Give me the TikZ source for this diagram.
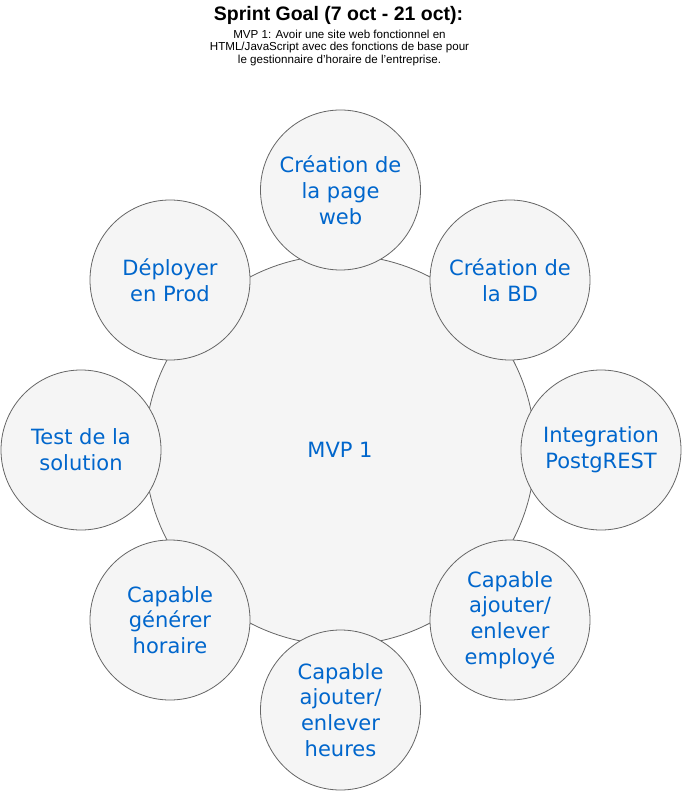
\documentclass[tikz,border=0pt]{standalone}
\usepackage{fontspec}
\setmainfont{Liberation Sans}
\newfontfamily\circfont{DejaVu Sans}
\definecolor{fillgray}{HTML}{F5F5F5}
\definecolor{strokegray}{HTML}{666666}
\definecolor{txtblue}{HTML}{0066CC}
\begin{document}
\begin{tikzpicture}[x=1pt,y=-1pt,
  bubble/.style={circle,draw=strokegray,fill=fillgray,line width=0.8pt,inner sep=0pt,
    minimum size=160pt,text=txtblue,align=center,
    font=\circfont\fontsize{21}{25.8}\selectfont},
  bigbubble/.style={bubble,minimum size=390pt}]
\useasboundingbox (0,0) rectangle (681,791);
\node[font=\bfseries\fontsize{19.5}{22}\selectfont] (title) at (338.5,15.5) {Sprint Goal (7 oct - 21 oct):};
\node[font=\fontsize{11.6}{12.8}\selectfont,align=center] (sub) at (339.5,48)
  {MVP 1: Avoir une site web fonctionnel en\\HTML/JavaScript avec des fonctions de base pour\\le gestionnaire d'horaire de l'entreprise.};
\node[bigbubble] (mvp) at (340,450) {MVP 1};
\node[bubble] (web) at (340.5,190) {Création de\\la page\\web};
\node[bubble] (bd) at (510,280) {Création de\\la BD};
\node[bubble] (pg) at (601,450) {Integration\\PostgREST};
\node[bubble] (emp) at (510,620) {Capable\\ajouter/\\enlever\\employé};
\node[bubble] (heu) at (340.5,710) {Capable\\ajouter/\\enlever\\heures};
\node[bubble] (gen) at (170,620) {Capable\\générer\\horaire};
\node[bubble] (test) at (81,450) {Test de la\\solution};
\node[bubble] (dep) at (170,280) {Déployer\\en Prod};
\end{tikzpicture}
\end{document}
